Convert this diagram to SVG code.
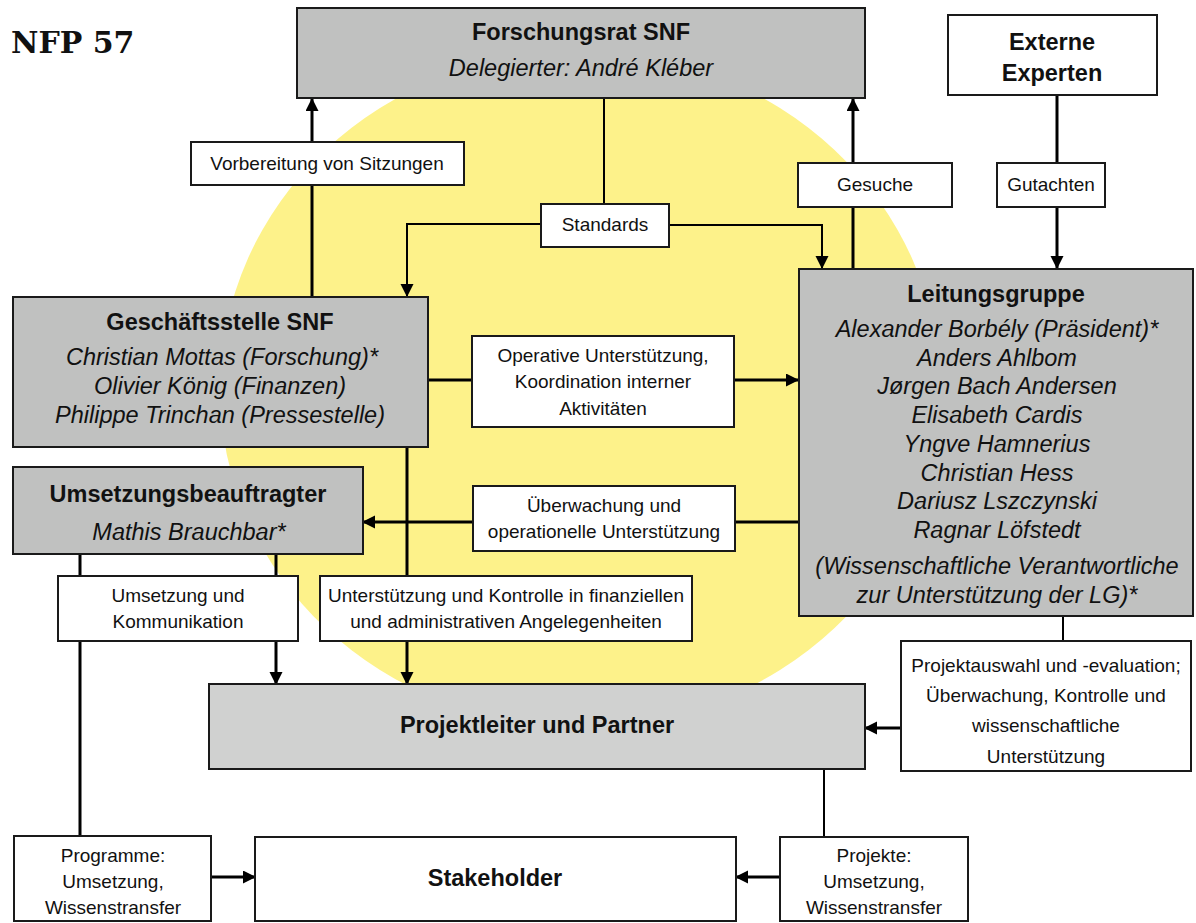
<svg xmlns="http://www.w3.org/2000/svg" width="1196" height="923" viewBox="0 0 1196 923">
<style>
  .box { stroke: #1a1a1a; stroke-width: 2; }
  .gray { fill: #c0c1c0; }
  .light { fill: #d0d1d0; }
  .white { fill: #ffffff; }
  .t { font-family: "Liberation Sans", Arial, sans-serif; fill: #111; text-anchor: middle; }
  .b { font-size: 23.5px; font-weight: bold; }
  .i { font-size: 23.5px; font-style: italic; }
  .l { font-size: 19px; }
  .thick { stroke: #000; stroke-width: 3; fill: none; }
  .thin { stroke: #000; stroke-width: 2; fill: none; }
  .arr { marker-end: url(#ah); }
</style>
<defs>
  <marker id="ah" markerUnits="userSpaceOnUse" markerWidth="14" markerHeight="14" refX="12" refY="6.5" orient="auto">
    <path d="M0,0 L13,6.5 L0,13 z" fill="#000"/>
  </marker>
</defs>
<rect width="1196" height="923" fill="#ffffff"/>
<ellipse cx="580" cy="389" rx="360" ry="338" fill="#fdf28a"/>
<text x="11" y="53" style="font-family:'DejaVu Serif','Liberation Serif',serif;font-weight:bold;font-size:30px;fill:#111">NFP 57</text>

<g id="connectors">
  <path class="thick arr" d="M312,296 L312,99"/>
  <path class="thin" d="M604,98 L604,204"/>
  <path class="thin arr" d="M541,224 L407,224 L407,296"/>
  <path class="thin arr" d="M669,225 L822,225 L822,268"/>
  <path class="thick arr" d="M853,268 L853,99"/>
  <path class="thick arr" d="M1057,95 L1057,268"/>
  <path class="thick arr" d="M428,380 L798,380"/>
  <path class="thick arr" d="M799,522 L363,522"/>
  <path class="thick arr" d="M407,447 L407,684"/>
  <path class="thick arr" d="M276,554 L276,684"/>
  <path class="thick" d="M80,554 L80,836"/>
  <path class="thick arr" d="M211,877 L255,877"/>
  <path class="thin" d="M824,769 L824,837"/>
  <path class="thick arr" d="M780,877 L736,877"/>
  <path class="thin" d="M1063,616 L1063,641"/>
  <path class="thick arr" d="M901,728 L865,728"/>
</g>

<g id="forschungsrat">
  <rect class="box gray" x="297" y="8" width="568" height="90"/>
  <text class="t b" x="581" y="40">Forschungsrat SNF</text>
  <text class="t i" x="581" y="76">Delegierter: André Kléber</text>
</g>
<g id="externe">
  <rect class="box white" x="948" y="15" width="209" height="80"/>
  <text class="t b" x="1052" y="50">Externe</text>
  <text class="t b" x="1052" y="81">Experten</text>
</g>
<g id="label-vorbereitung">
  <rect class="box white" x="191" y="142" width="273" height="43"/>
  <text class="t l" x="327" y="170">Vorbereitung von Sitzungen</text>
</g>
<g id="label-standards">
  <rect class="box white" x="541" y="204" width="128" height="43"/>
  <text class="t l" x="605" y="231">Standards</text>
</g>
<g id="label-gesuche">
  <rect class="box white" x="798" y="163" width="154" height="44"/>
  <text class="t l" x="875" y="191">Gesuche</text>
</g>
<g id="label-gutachten">
  <rect class="box white" x="997" y="163" width="108" height="44"/>
  <text class="t l" x="1051" y="191">Gutachten</text>
</g>
<g id="geschaeftsstelle">
  <rect class="box gray" x="13" y="297" width="415" height="150"/>
  <text class="t b" x="220" y="330">Geschäftsstelle SNF</text>
  <text class="t i" x="222" y="365">Christian Mottas (Forschung)*</text>
  <text class="t i" x="220" y="394">Olivier König (Finanzen)</text>
  <text class="t i" x="220" y="423">Philippe Trinchan (Pressestelle)</text>
</g>
<g id="label-operative">
  <rect class="box white" x="472" y="336" width="262" height="91"/>
  <text class="t l" x="603" y="362">Operative Unterstützung,</text>
  <text class="t l" x="603" y="388">Koordination interner</text>
  <text class="t l" x="603" y="415">Aktivitäten</text>
</g>
<g id="umsetzungsbeauftragter">
  <rect class="box gray" x="13" y="467" width="350" height="87"/>
  <text class="t b" x="188" y="502">Umsetzungsbeauftragter</text>
  <text class="t i" x="189" y="540">Mathis Brauchbar*</text>
</g>
<g id="label-ueberwachung">
  <rect class="box white" x="473" y="486" width="262" height="65"/>
  <text class="t l" x="604" y="512">Überwachung und</text>
  <text class="t l" x="604" y="538">operationelle Unterstützung</text>
</g>
<g id="leitungsgruppe">
  <rect class="box gray" x="799" y="269" width="394" height="347"/>
  <text class="t b" x="996" y="302">Leitungsgruppe</text>
  <text class="t i" x="997" y="337">Alexander Borbély (Präsident)*</text>
  <text class="t i" x="997" y="366">Anders Ahlbom</text>
  <text class="t i" x="997" y="394">Jørgen Bach Andersen</text>
  <text class="t i" x="997" y="423">Elisabeth Cardis</text>
  <text class="t i" x="997" y="452">Yngve Hamnerius</text>
  <text class="t i" x="997" y="481">Christian Hess</text>
  <text class="t i" x="997" y="509">Dariusz Lszczynski</text>
  <text class="t i" x="997" y="538">Ragnar Löfstedt</text>
  <text class="t i" x="997" y="574">(Wissenschaftliche Verantwortliche</text>
  <text class="t i" x="997" y="603">zur Unterstützung der LG)*</text>
</g>
<g id="label-umsetzung">
  <rect class="box white" x="58" y="576" width="240" height="65"/>
  <text class="t l" x="178" y="602">Umsetzung und</text>
  <text class="t l" x="178" y="628">Kommunikation</text>
</g>
<g id="label-unterstuetzung">
  <rect class="box white" x="320" y="576" width="372" height="65"/>
  <text class="t l" x="506" y="602">Unterstützung und Kontrolle in finanziellen</text>
  <text class="t l" x="506" y="628">und administrativen Angelegenheiten</text>
</g>
<g id="projektleiter">
  <rect class="box light" x="209" y="684" width="656" height="85"/>
  <text class="t b" x="537" y="733">Projektleiter und Partner</text>
</g>
<g id="label-projektauswahl">
  <rect class="box white" x="901" y="641" width="290" height="130"/>
  <text class="t l" x="1046" y="672">Projektauswahl und -evaluation;</text>
  <text class="t l" x="1046" y="702">Überwachung, Kontrolle und</text>
  <text class="t l" x="1046" y="732">wissenschaftliche</text>
  <text class="t l" x="1046" y="763">Unterstützung</text>
</g>
<g id="label-programme">
  <rect class="box white" x="14" y="836" width="197" height="85"/>
  <text class="t l" x="113" y="862">Programme:</text>
  <text class="t l" x="113" y="888">Umsetzung,</text>
  <text class="t l" x="113" y="914">Wissenstransfer</text>
</g>
<g id="stakeholder">
  <rect class="box white" x="255" y="837" width="481" height="84"/>
  <text class="t b" x="495" y="886">Stakeholder</text>
</g>
<g id="label-projekte">
  <rect class="box white" x="780" y="837" width="188" height="84"/>
  <text class="t l" x="874" y="862">Projekte:</text>
  <text class="t l" x="874" y="888">Umsetzung,</text>
  <text class="t l" x="874" y="914">Wissenstransfer</text>
</g>
</svg>
